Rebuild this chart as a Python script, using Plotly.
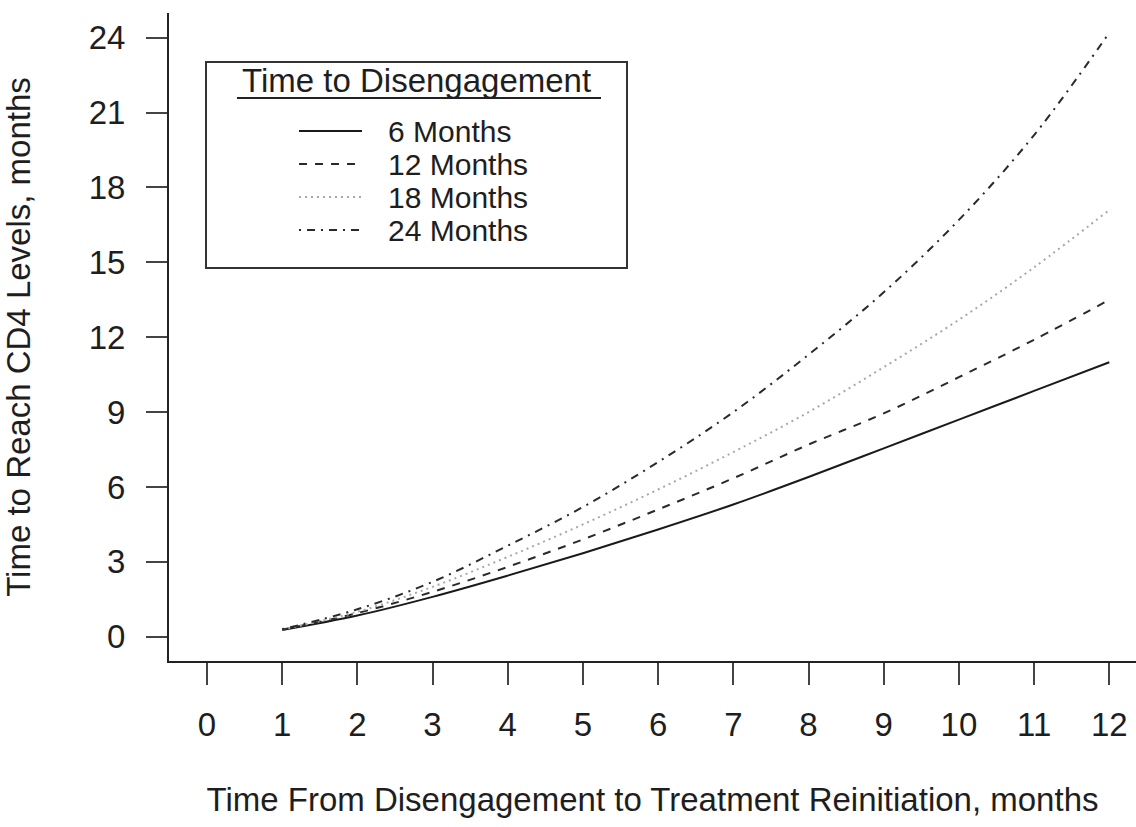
import plotly.graph_objects as go

# ---- data ----
months_since = [1, 2, 3, 4, 5, 6, 7, 8, 9, 10, 11, 12]
m6 = [0.27, 0.85, 1.6, 2.45, 3.35, 4.3, 5.3, 6.4, 7.55, 8.7, 9.85, 11.0]
m12 = [0.28, 0.95, 1.8, 2.8, 3.9, 5.1, 6.35, 7.7, 8.95, 10.4, 11.9, 13.5]
m18 = [0.29, 1.0, 2.0, 3.2, 4.5, 5.9, 7.4, 9.0, 10.8, 12.7, 14.8, 17.1]
m24 = [0.3, 1.1, 2.2, 3.65, 5.2, 7.0, 9.0, 11.3, 13.8, 16.7, 20.1, 24.2]
series_names = ["6 Months", "12 Months", "18 Months", "24 Months"]
x_ticks = list(range(0, 13))
y_ticks = list(range(0, 25, 3))

FONT = "Liberation Sans, Arial, Helvetica, sans-serif"
FS = 33
FS_LEG = 30
TXT = "#1e1e1e"

styles = [
    dict(color="#1a1a1a", dash="solid"),
    dict(color="#2a2a2a", dash="8px,8px"),
    dict(color="#a8a8a8", dash="2px,4px"),
    dict(color="#2a2a2a", dash="2px,6px,8px,6px"),
]
LW = 2

W, H = 1136, 827
L, R, T, B = 169, 0, 13, 166
PW, PH = W - L - R, H - T - B


def px(xp):
    return (xp - L) / PW


def py(yp):
    return (H - B - yp) / PH


fig = go.Figure()
for name, vals, st in zip(series_names, [m6, m12, m18, m24], styles):
    fig.add_trace(go.Scatter(
        x=months_since, y=vals, mode="lines", name=name,
        line=dict(color=st["color"], dash=st["dash"], width=LW, shape="spline"),
        showlegend=False,
    ))

# ---- hand-drawn legend box (R style) ----
shapes = []
annotations = []
shapes.append(dict(type="rect", xref="paper", yref="paper",
                   x0=px(206), x1=px(627), y0=py(268), y1=py(62),
                   line=dict(color="#333", width=2), fillcolor="white", layer="below"))
annotations.append(dict(text="Time to Disengagement", xref="paper", yref="paper",
                        x=px(240), y=py(80), xanchor="left", yanchor="middle",
                        showarrow=False, font=dict(family=FONT, size=FS, color=TXT)))
shapes.append(dict(type="line", xref="paper", yref="paper",
                   x0=px(237), x1=px(601), y0=py(98), y1=py(98),
                   line=dict(color="#222", width=2)))
row_y = [131, 164, 197, 230]
for name, st, yy in zip(series_names, styles, row_y):
    shapes.append(dict(type="line", xref="paper", yref="paper",
                       x0=px(299), x1=px(362), y0=py(yy), y1=py(yy),
                       line=dict(color=st["color"], width=LW, dash=st["dash"])))
    annotations.append(dict(text=name, xref="paper", yref="paper",
                            x=px(386), y=py(yy), xanchor="left", yanchor="middle",
                            showarrow=False, font=dict(family=FONT, size=FS_LEG, color=TXT)))

fig.update_layout(
    width=W, height=H,
    margin=dict(l=L, r=R, t=T, b=B, pad=0),
    paper_bgcolor="white", plot_bgcolor="white",
    font=dict(family=FONT, size=FS, color=TXT),
    shapes=shapes, annotations=annotations,
    showlegend=False,
)
fig.update_xaxes(
    range=[-0.504, 12.355], tickvals=x_ticks, ticktext=[str(v) for v in x_ticks],
    showline=True, linecolor="#222", linewidth=2, mirror=False,
    ticks="outside", ticklen=22, tickwidth=1.5, tickcolor="#444",
    ticklabelstandoff=11,
    showgrid=False, zeroline=False,
    tickfont=dict(family=FONT, size=FS, color=TXT),
    title=dict(text="Time From Disengagement to Treatment Reinitiation, months",
               font=dict(family=FONT, size=FS, color=TXT), standoff=46),
    automargin=False,
)
fig.update_yaxes(
    range=[-0.97, 24.99], tickvals=y_ticks, ticktext=[str(v) for v in y_ticks],
    showline=True, linecolor="#222", linewidth=2, mirror=False,
    ticks="outside", ticklen=21, tickwidth=1.5, tickcolor="#444",
    ticklabelstandoff=14,
    showgrid=False, zeroline=False,
    tickfont=dict(family=FONT, size=FS, color=TXT),
    title=dict(text="Time to Reach CD4 Levels, months",
               font=dict(family=FONT, size=FS, color=TXT), standoff=48),
    automargin=False,
)

fig.write_html("out.html", config={"displayModeBar": False},
               post_script="document.body.style.margin='0';document.body.style.overflow='hidden';")
